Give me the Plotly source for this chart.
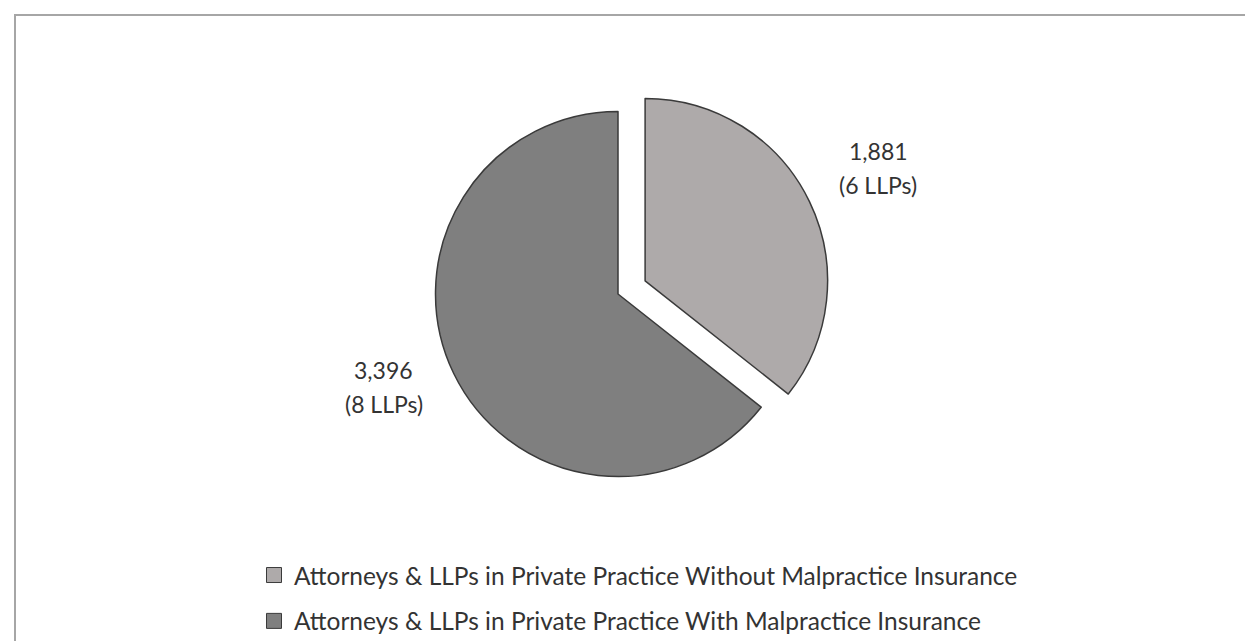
import math
import plotly.graph_objects as go

# ---- data ----
labels = [
    "Attorneys & LLPs in Private Practice Without Malpractice Insurance",
    "Attorneys & LLPs in Private Practice With Malpractice Insurance",
]
attorneys = [1881, 3396]
llps = [6, 8]
colors = ["#AEAAAA", "#7F7F7F"]
pulls = [0.165, 0.0]

# ---- layout constants (pixels) ----
W, H = 1253, 641
CX, CY = 610, 286          # pie centre
R = 182.5                  # pie radius
FONT = "Lato, 'Open Sans', sans-serif"
TXT = "#333333"
LABEL_SIZE = 23
LEGEND_SIZE = 24.5

box = R * (2 + 2 * max(pulls))
dom_x = [(CX - box / 2) / W, (CX + box / 2) / W]
dom_y = [1 - (CY + box / 2) / H, 1 - (CY - box / 2) / H]

fig = go.Figure()
fig.add_trace(go.Pie(
    labels=labels,
    values=attorneys,
    sort=False,
    direction="clockwise",
    rotation=0,
    pull=pulls,
    marker=dict(colors=colors, line=dict(color="#3A3A3A", width=1.5)),
    textinfo="none",
    showlegend=False,
    domain=dict(x=dom_x, y=dom_y),
    hovertemplate="%{label}<br>%{value:,}<extra></extra>",
))

# legend entries (one group per slice so the spacing can be set)
for i, lab in enumerate(labels):
    fig.add_trace(go.Scatter(
        x=[None], y=[None], mode="markers", name=lab,
        legendgroup=f"g{i}",
        marker=dict(symbol="square", size=15, color=colors[i],
                    line=dict(color="#3A3A3A", width=1)),
        hoverinfo="skip",
    ))

# data labels positioned along each slice bisector
total = sum(attorneys)
nudges = [(0, 0), (-1, -20)]
annotations = []
cum = 0
for i, v in enumerate(attorneys):
    mid = 2 * math.pi * (cum + v / 2) / total
    cum += v
    d = (pulls[i] + 1.42) * R
    x = CX + math.sin(mid) * d + nudges[i][0]
    y = CY - math.cos(mid) * d + nudges[i][1]
    for line, dy in ((f"{v:,}", -17), (f"({llps[i]} LLPs)", 17)):
        annotations.append(dict(
            x=x / W, y=1 - (y + dy) / H, xref="paper", yref="paper",
            text=line, showarrow=False, xanchor="center", yanchor="middle",
            font=dict(family=FONT, size=LABEL_SIZE, color=TXT),
        ))

fig.update_layout(
    width=W, height=H,
    margin=dict(l=0, r=0, t=0, b=0),
    paper_bgcolor="white", plot_bgcolor="white",
    xaxis=dict(visible=False), yaxis=dict(visible=False),
    annotations=annotations,
    legend=dict(
        x=246 / W, y=1 - 544.6 / H, xanchor="left", yanchor="top",
        orientation="v", tracegroupgap=11,
        font=dict(family=FONT, size=LEGEND_SIZE, color=TXT),
        bgcolor="rgba(0,0,0,0)",
    ),
    shapes=[dict(
        type="rect", xref="paper", yref="paper",
        x0=7 / W, x1=1.02, y0=-0.05, y1=1 - 7 / H,
        line=dict(color="#A6A6A6", width=2), fillcolor="rgba(0,0,0,0)",
        layer="below",
    )],
    hovermode="closest",
)

fig.write_html("out.html")
